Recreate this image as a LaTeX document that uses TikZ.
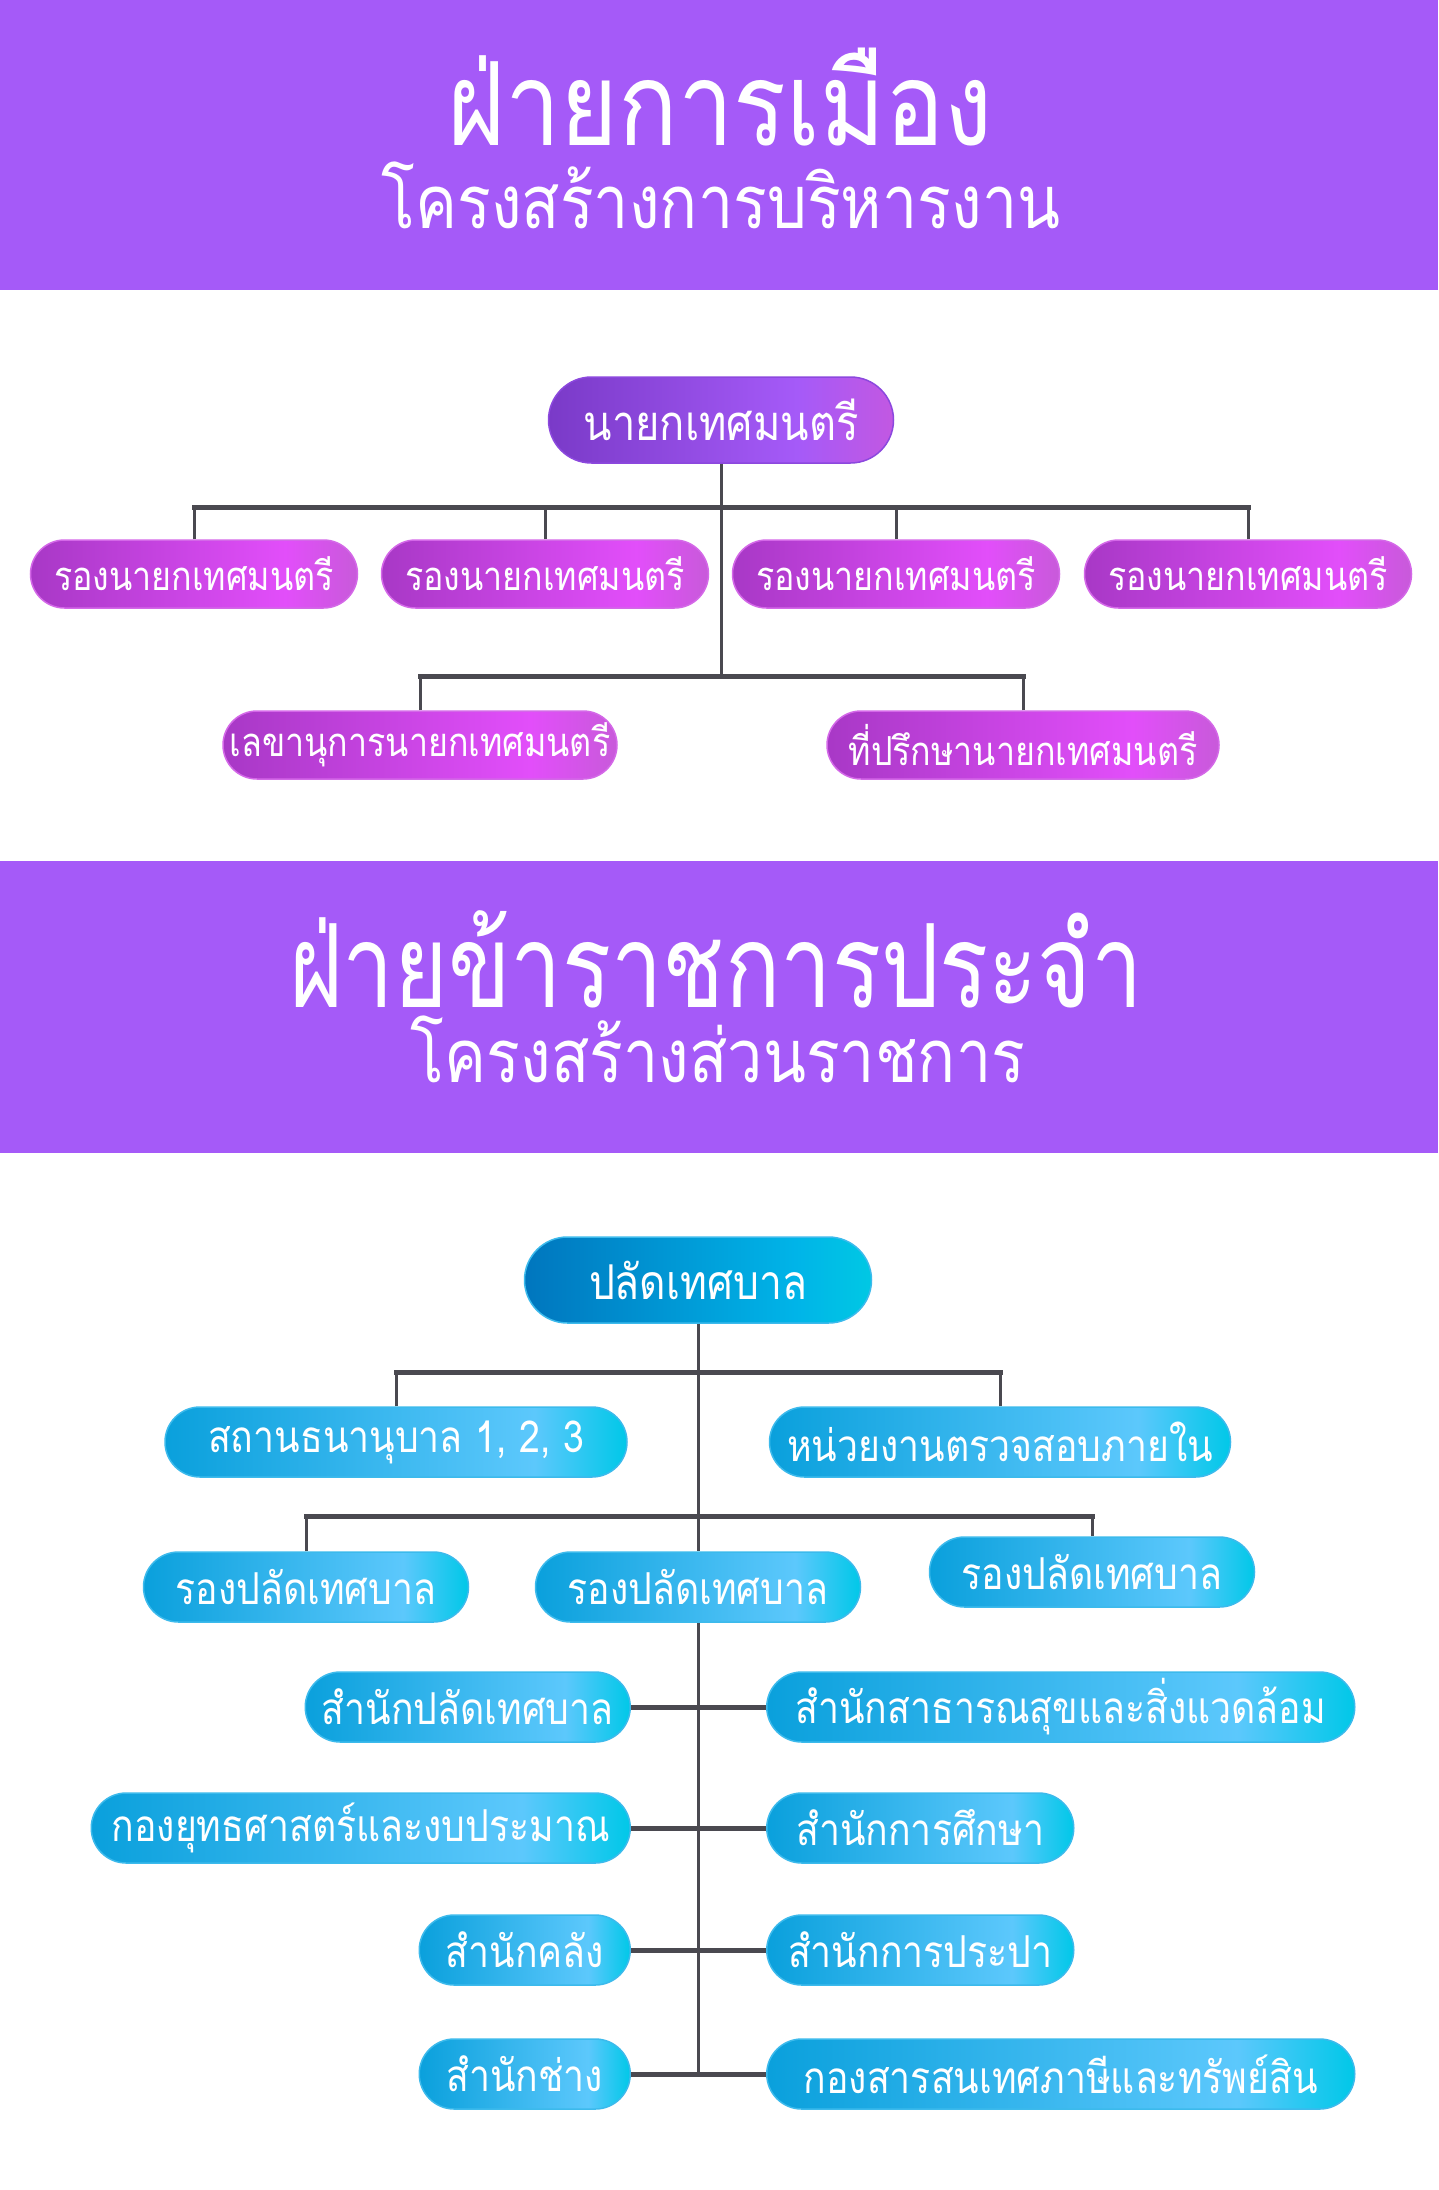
\documentclass[tikz,border=0pt]{standalone}
\usepackage{fontspec}
\newfontfamily\thai[Script=Thai,FakeStretch=0.85]{Loma}
\newfontfamily\thainarrow[Script=Thai,FakeStretch=0.79]{Loma}
\definecolor{bandpurple}{RGB}{165,90,248}
\definecolor{linegray}{RGB}{74,73,80}
\definecolor{mayorA}{RGB}{122,58,200}
\definecolor{mayorB}{RGB}{165,90,248}
\definecolor{mayorC}{RGB}{194,88,226}
\definecolor{mayorline}{RGB}{140,72,222}
\definecolor{depA}{RGB}{168,56,198}
\definecolor{depB}{RGB}{226,78,250}
\definecolor{depC}{RGB}{200,90,218}
\definecolor{depline}{RGB}{212,104,232}
\definecolor{chiefA}{RGB}{0,118,190}
\definecolor{chiefB}{RGB}{0,180,232}
\definecolor{chiefC}{RGB}{0,200,228}
\definecolor{unitA}{RGB}{10,160,220}
\definecolor{unitB}{RGB}{92,200,252}
\definecolor{unitC}{RGB}{0,200,232}
\definecolor{unitline}{RGB}{60,186,236}
\pgfdeclarehorizontalshading{mayorfill}{100bp}{color(0bp)=(mayorA); color(25bp)=(mayorA); color(61bp)=(mayorB); color(75bp)=(mayorC); color(100bp)=(mayorC)}
\pgfdeclarehorizontalshading{depfill}{100bp}{color(0bp)=(depA); color(25bp)=(depA); color(64bp)=(depB); color(75bp)=(depC); color(100bp)=(depC)}
\pgfdeclarehorizontalshading{chieffill}{100bp}{color(0bp)=(chiefA); color(25bp)=(chiefA); color(64bp)=(chiefB); color(75bp)=(chiefC); color(100bp)=(chiefC)}
\pgfdeclarehorizontalshading{unitfill}{100bp}{color(0bp)=(unitA); color(25bp)=(unitA); color(65bp)=(unitB); color(75bp)=(unitC); color(100bp)=(unitC)}
\begin{document}
\begin{tikzpicture}[x=1pt,y=-1pt,
  head/.style={text=white, anchor=base, text depth=0pt, inner sep=0pt, font=\thai\fontsize{116}{120}\selectfont},
  subhead/.style={text=white, anchor=base, text height=40pt, inner sep=0pt, font=\thai\fontsize{74}{80}\selectfont},
  mayorbox/.style={shading=mayorfill, draw=mayorline, line width=1.5pt, rounded corners=43pt, minimum width=345pt, minimum height=86pt, inner sep=0pt, text=white, font=\thai\fontsize{49}{52}\selectfont},
  depbox/.style={shading=depfill, draw=depline, line width=1.5pt, rounded corners=34pt, minimum height=68pt, inner sep=0pt, text=white, font=\thai\fontsize{40}{44}\selectfont},
  chiefbox/.style={shading=chieffill, draw=unitline, line width=1.5pt, rounded corners=43pt, minimum width=347pt, minimum height=86pt, inner sep=0pt, text=white, font=\thai\fontsize{48}{52}\selectfont},
  unitbox/.style={shading=unitfill, draw=unitline, line width=1.5pt, rounded corners=35pt, minimum height=70pt, inner sep=0pt, text=white, font=\thai\fontsize{44}{48}\selectfont},
  trunk/.style={draw=linegray, line width=3pt},
  bar/.style={draw=linegray, line width=5pt}]
\useasboundingbox[fill=white] (0,0) rectangle (1438,2190);
\fill[bandpurple] (0,0) rectangle (1438,290);
\fill[bandpurple] (0,861) rectangle (1438,1153);
\node[head] (title1) at (720,145) {ฝ่ายการเมือง};
\node[subhead] (sub1) at (721,228) {โครงสร้างการบริหารงาน};
\node[mayorbox] (mayor) at (721,420) {นายกเทศมนตรี};
\node[depbox, minimum width=327pt] (dep1) at (194,574) {รองนายกเทศมนตรี};
\node[depbox, minimum width=327pt] (dep2) at (545,574) {รองนายกเทศมนตรี};
\node[depbox, minimum width=327pt] (dep3) at (896,574) {รองนายกเทศมนตรี};
\node[depbox, minimum width=327pt] (dep4) at (1248,574) {รองนายกเทศมนตรี};
\node[depbox, minimum width=394pt] (sec) at (420,745) {เลขานุการนายกเทศมนตรี};
\node[depbox, minimum width=392pt] (adv) at (1023,745) {ที่ปรึกษานายกเทศมนตรี};
\coordinate (busA) at (721,507);
\coordinate (busB) at (721,676);
\draw[trunk] (mayor.south) -- (busB);
\draw[trunk] (dep1.north) -- (dep1.north |- busA);
\draw[trunk] (dep2.north) -- (dep2.north |- busA);
\draw[trunk] (dep3.north) -- (dep3.north |- busA);
\draw[trunk] (dep4.north) -- (dep4.north |- busA);
\draw[trunk] (sec.north) -- (sec.north |- busB);
\draw[trunk] (adv.north) -- (adv.north |- busB);
\draw[bar, line cap=rect] (dep1.north |- busA) -- (dep4.north |- busA);
\draw[bar, line cap=rect] (sec.north |- busB) -- (adv.north |- busB);
\node[head, font=\thainarrow\fontsize{116}{120}\selectfont] (title2) at (716,1007) {ฝ่ายข้าราชการประจำ};
\node[subhead] (sub2) at (718,1082) {โครงสร้างส่วนราชการ};
\node[chiefbox] (clerk) at (698,1280) {ปลัดเทศบาล};
\node[unitbox, minimum width=462pt] (pawn) at (396,1442) {สถานธนานุบาล 1, 2, 3};
\node[unitbox, minimum width=461pt] (audit) at (1000,1442) {หน่วยงานตรวจสอบภายใน};
\node[unitbox, minimum width=325pt] (dclerk1) at (306,1587) {รองปลัดเทศบาล};
\node[unitbox, minimum width=325pt] (dclerk2) at (698,1587) {รองปลัดเทศบาล};
\node[unitbox, minimum width=325pt] (dclerk3) at (1092,1572) {รองปลัดเทศบาล};
\node[unitbox, anchor=east, minimum width=325pt] (left1) at (631,1707) {สำนักปลัดเทศบาล};
\node[unitbox, anchor=west, minimum width=588pt] (right1) at (766,1707) {สำนักสาธารณสุขและสิ่งแวดล้อม};
\node[unitbox, anchor=east, minimum width=539pt] (left2) at (631,1828) {กองยุทธศาสตร์และงบประมาณ};
\node[unitbox, anchor=west, minimum width=307pt] (right2) at (766,1828) {สำนักการศึกษา};
\node[unitbox, anchor=east, minimum width=211pt] (left3) at (631,1950) {สำนักคลัง};
\node[unitbox, anchor=west, minimum width=307pt] (right3) at (766,1950) {สำนักการประปา};
\node[unitbox, anchor=east, minimum width=211pt] (left4) at (631,2074) {สำนักช่าง};
\node[unitbox, anchor=west, minimum width=588pt] (right4) at (766,2074) {กองสารสนเทศภาษีและทรัพย์สิน};
\coordinate (busC) at (698,1372);
\coordinate (busD) at (698,1516);
\draw[trunk] (clerk.south) -- (dclerk2.north);
\draw[trunk] (dclerk2.south) -- (dclerk2.south |- left4.east);
\draw[trunk] (pawn.north) -- (pawn.north |- busC);
\draw[trunk] (audit.north) -- (audit.north |- busC);
\draw[trunk] (dclerk1.north) -- (dclerk1.north |- busD);
\draw[trunk] (dclerk3.north) -- (dclerk3.north |- busD);
\draw[bar, line cap=rect] (pawn.north |- busC) -- (audit.north |- busC);
\draw[bar, line cap=rect] (dclerk1.north |- busD) -- (dclerk3.north |- busD);
\draw[bar] (left1.east) -- (right1.west);
\draw[bar] (left2.east) -- (right2.west);
\draw[bar] (left3.east) -- (right3.west);
\draw[bar] (left4.east) -- (right4.west);
\end{tikzpicture}
\end{document}
